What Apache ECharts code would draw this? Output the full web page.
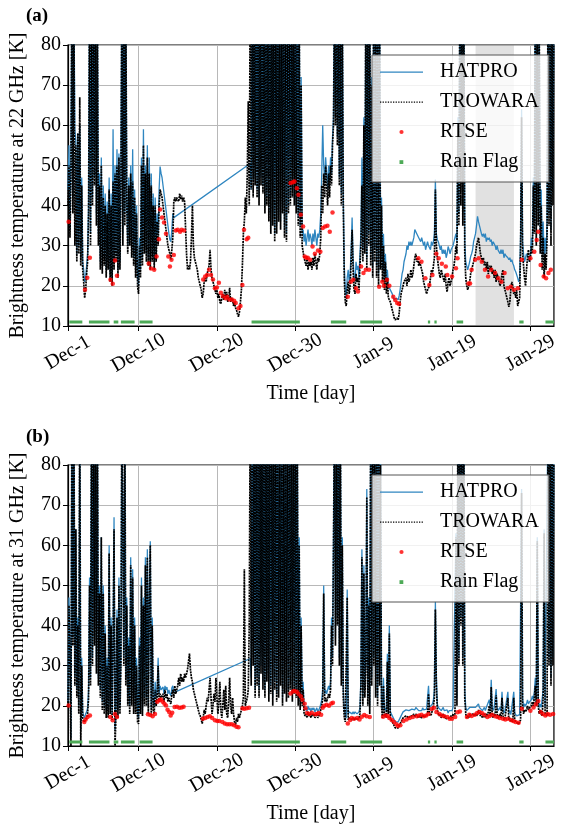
<!DOCTYPE html>
<html><head><meta charset="utf-8">
<script src="https://cdn.jsdelivr.net/npm/echarts@6/dist/echarts.min.js"></script>
<style>html,body{margin:0;padding:0;background:#fff}#c{width:561px;height:830px}</style>
</head><body><div id="c"></div>
<script>
// x values are days counted from Nov-30 (Dec-1 = 1, Jan-29 = 60)
const START_DAY = 1;      // first sample: Dec-1 00:00
const STEP = 0.125;       // 3-hour samples
const X_MIN = 1, X_MAX = 63;
const TICK_DAYS = [1, 10, 20, 30, 40, 50, 60];
const TICK_LABELS = ['Dec-1', 'Dec-10', 'Dec-20', 'Dec-30', 'Jan-9', 'Jan-19', 'Jan-29'];
const Y_MIN = 10, Y_MAX = 80, Y_STEP = 10;
const RAIN_LEVEL = 11;
const SHADE = [53, 57.9];

// TROWARA 22 GHz, one row per day (8 samples)
const T22 = [
40,50,32,48,95,38,92,30,
55,26,58,28,67,25,45,24,
21,17,19,23,26,38,95,30,
95,40,95,45,95,35,90,30,
45,24,50,23,42,25,40,22,
38,24,44,21,40,20,46,24,
48,26,50,22,52,24,45,95,
30,95,35,92,40,28,45,30,
48,27,46,25,42,22,38,20,
18,30,22,50,25,55,28,48,
26,52,25,48,24,45,26,40,
24,40,26,36,30,40,44,43,
42,40,38,36,34,32,30,29,
28,26.5,29,32,41,42,41,42,
42,41,43,41.5,42.5,41,42,41,
41,28,24,25,24,26,32,40,
30,27,26,25,24,22,21,20,
19,17,18,21,22,21,23,24,
25,29,24,22,21,20,19,18,
19,17,18,16,15.5,17,18,16.5,
19,17,18.5,16,17,19.5,16,17,
16.5,15,16,14.5,14,13,12.3,13.5,
16,19,25,33,36,42,38,48,
66,40,95,44,95,42,95,45,
95,42,95,40,95,45,95,43,
95,38,95,40,95,36,95,33,
95,35,95,31,95,33,95,36,
95,34,95,38,95,32,95,31,
95,38,95,40,95,42,95,40,
95,38,95,35,90,32,70,30,
30,27,26,25,27,24,26,25,
26,24,27,25,28,26,24,27,
26,28,32,45,38,48,42,50,
45,40,48,42,50,45,55,60,
95,60,95,55,95,45,95,40,
90,40,22,16,15,19,21,18,
20,26,34,24,19,18,23,21,
22,19,25,30,45,26,60,28,
95,24,95,30,95,25,70,22,
95,26,95,22,90,20,95,24,
40,21,30,19,26,18,22,17,
17,16,15,14,13,12,11.5,11.5,
12,11.5,13,16,18,19,20,21,
21,22,20,23,21,22,24,22,
23,25,27,28,26,27,25,26,
25,24,23,21,20,19,18,19,
19,20,22,24,23,25,27,44,
30,27,25,23,22,24,23,22,
21,23,20,18.5,21,22,20,21,
22,24,25,27,30,28,60,35,
95,40,95,35,95,28,22,20,
19,20,21,23,24,25,26,27,
28,30,31,32,30,28,27,26,
27,25,26,24,26,23,25,24,
25,23,24,22,24,21,23,22,
22,20,21,23,24,20,19,18,
17,16,14.8,16,19,21,20,18,
18.5,17,19,15,14.8,17,30,62,
28,25,22,20,24,27,29,26,
27,30,28,45,33,95,30,95,
35,85,28,40,24,32,22,28,
24,32,95,35,95,30,95,40,
95
];

// HATPRO 22 GHz (null = no data, the line bridges the gap)
const H22 = [
44,55,34,52,95,42,95,59,
56,28,58,30,60,27,47,26,
24,21,22,25,28,40,95,33,
95,42,95,47,95,38,92,33,
48,26,52,25,45,27,43,24,
41,26,47,23,43,22,59,26,
50,28,54,24,53,26,47,95,
33,95,38,95,42,30,47,32,
50,29,54,27,44,24,40,22,
20,32,24,52,27,59,30,50,
28,55,27,52,26,48,28,43,
26,42,28,38,33,44,49.7,48,
47,45,43,41,39,37,35,33,
31.5,31,34,38,37,null,null,null,
null,null,null,null,null,null,null,null,
null,null,null,null,null,null,null,null,
null,null,null,null,null,null,null,null,
null,null,null,null,null,null,null,null,
null,null,null,null,null,null,null,null,
null,null,null,null,null,null,null,null,
null,null,null,null,null,null,null,null,
null,null,null,null,null,null,null,null,
null,null,null,null,null,null,null,null,
null,null,50.5,44,95,46,95,47,
95,44,95,42,95,47,95,45,
95,40,95,42,95,38,95,35,
95,37,95,33,95,35,95,38,
95,36,95,40,95,34,95,33,
95,40,95,42,95,44,95,42,
95,40,95,37,92,35,72,33,
34,31,33,30,32,34,31,33,
32,30,33,31,34,32,30,33,
32,34,38,48,60,50,46,52,
48,44,50,46,52,48,57,62,
95,62,95,57,95,47,95,43,
92,42,25,19,17,22,24,21,
23,29,37,27,22,21,26,24,
25,22,28,33,52,29,62,31,
95,27,95,33,95,28,72,25,
95,29,95,25,92,23,95,27,
42,24,33,22,28,21,24,20,
20,19,18.5,18,17,16.5,16.5,17,
17,16.5,17.5,19,21,23,24,26,
27,28,30,29,31,30,31,30,
30,32,34,34.4,33,33,32,31.5,
31,32,31,30,31,29,30,31,
30,29.8,29,31,30,31,33,46.5,
33,31.5,31,30,29,30,28,29,
28,29,27,28,29.8,29,28,29,
28.9,30,31,32,33,31,62,38,
95,56,95,38,95,31,26,25,
24,25,26,27.3,28,29,31,32,
33,35,37.3,36,35,34,33,32.3,
33,32,33,31,32,31.5,32,31,
31.5,30,31,30.5,30,29,30,28.9,
29,28,29,28,29,27,28,27.5,
27.3,27,26.5,27,26,26.5,25.6,25,
24,23.5,23.1,22,21,22,33,64,
31,28,26,27,28,28,27,26,
28,32,30,47,36,95,34,95,
38,87,32,44,28,36,27,32,
28,36,95,38,95,34,95,44,
95
];

// TROWARA 31 GHz
const T31 = [
20,45,30,10,95,35,95,25,
64,22,40,18,95,10,30,17,
16,15.6,16.5,17,18,22,50,25,
95,30,95,35,95,28,95,25,
48,22,62,19,48,18,38,17,
30,17,58,18,40,16.5,35,64,
10,18,42,17,50,18,30,95,
95,30,95,25,45,20,35,18,
55,20,52,18,40,18,30,16,
15.5,35,18,50,17.5,45,20,55,
20,57,18,45,60,17.5,40,19,
18,24,20,22,30,21,23,22,
22,23,21,24,22,23,21,22,
21,20.5,23,24,22,25,23,24,
25,27,25,28,26,27,26,28,
27,28,29,31,33,29,27,26,
24,23,22,21,20,19,18,17.5,
16.5,15.6,17,19,18,20,22,21,
24,27,22,18,20,23,21,27,
22,18,21,26,19,17,20,24,
19,25,18,17,21,27,20,18,
22,18,16,15.2,17,16,18,17,
17,19,20,22,54,20,21,22,
24,40,95,25,95,30,95,22,
95,25,95,22,95,28,95,24,
95,22,95,26,95,21,95,23,
95,20,95,24,95,21,95,22,
95,25,95,20,95,23,95,21,
95,22,95,24,95,21,95,23,
95,22,95,20,60,19,40,20,
24,18,17.5,18,17,18.5,17.5,18,
17,18,17.5,18,17,17.5,18,17,
17.5,18,19,20,22,48,21,22,
21,22,23,22,24,40,30,60,
95,35,95,40,95,30,95,25,
60,22,17,16,15.6,47,16.5,17,
16.8,17,16.5,17,16.5,17,16.8,16.5,
16.5,17,18,25,57,20,53,22,
30,72,20,45,18,95,25,95,
30,95,22,95,20,95,25,80,
20,17,25,17.5,18,17,31,18,
38,17,16.5,16,15.5,15,14.5,14.3,
14.3,14.5,15,15.5,16,16.5,17,17,
17,17.5,17.2,17.8,17,17.5,17.2,17.5,
17.5,18,17.2,18,17.5,17.8,17,17.5,
17.5,17,17.8,17.2,17.5,17,17.5,18,
23,18,17.5,18,19,20,22,44,
25,19,18,17.5,18,17,17.5,18,
17,17.5,16.8,17.2,16.5,17,16.8,17.5,
17,18,17.5,18,62,20,95,30,
95,40,95,30,95,22,18,17,
17.5,17,18,17.5,17.8,18,17.5,18,
18,17.5,18,19,18,17.5,18,17,
17.5,18,17,18,17.5,18.5,20,17.5,
24.7,18,17,18,17.5,22.6,18,17,
17.5,18,17,22,17.5,16.5,17,16.8,
17,22,16.5,17,16,16.5,16,22,
16.5,16,15.7,16,15.5,16,16.5,73,
20,18,19,18.5,19,20,19,19.5,
19.3,20,21,20,22,25,20,61,
20,18,19,18,17.5,22,63,18,
18,17.5,95,30,95,25,95,30,
95
];

// HATPRO 31 GHz
const H31 = [
21,47,32,12,95,37,95,27,
64,24,42,20,95,14,32,18.5,
17.5,17,18,18.5,19.5,24,52,27,
95,32,95,37,95,30,95,27,
50,24,62,21,50,20,40,19,
32,19,60,20,42,18,37,67,
14,20,44,19,52,20,32,95,
95,32,95,27,47,22,37,20,
57,22,54,20,42,20,32,18,
17,37,20,52,19,47,22,57,
22,59,20,47,61,19.5,42,21,
20,26,22,24,32,23,25,24,
24,24.7,23,25,24,24.7,23,24,
23,22.5,24.5,25,23.3,null,null,null,
null,null,null,null,null,null,null,null,
null,null,null,null,null,null,null,null,
null,null,null,null,null,null,null,null,
null,null,null,null,null,null,null,null,
null,null,null,null,null,null,null,null,
null,null,null,null,null,null,null,null,
null,null,null,null,null,null,null,null,
null,null,null,null,null,null,null,null,
null,null,null,null,null,null,null,null,
null,null,31.8,27,95,32,95,24,
95,27,95,24,95,30,95,26,
95,24,95,28,95,23,95,25,
95,22,95,26,95,23,95,24,
95,27,95,22,95,25,95,23,
95,24,95,26,95,23,95,25,
95,24,95,22,62,21,42,22,
26,19.5,19,19.5,18.5,20,19,19.5,
18.5,19.5,19,19.5,18.5,19,19.5,18.5,
19,19.5,20.5,21.5,24,50,23,24,
23,24,25,24,26,42,32,62,
95,37,95,42,95,32,95,27,
62,24,19,17.5,17,49,18,18.5,
18.5,18.5,18,18.5,18,18.5,18.3,18,
18,18.5,19.5,27,59,22,55,24,
32,74,22,47,20,95,27,95,
32,95,24,95,22,95,27,82,
22,19,27,19,19.5,18.5,33,19.5,
40,18.5,18,17.5,17,16.5,16,15.8,
15.8,16,16.5,17,17.5,18,18.5,18.8,
18.8,19,18.9,19.3,18.8,19.2,18.9,19.2,
19.2,19.5,19,19.6,19.2,19.4,18.8,19.2,
19.2,18.8,19.5,19,19.2,18.8,19.2,19.6,
25,19.6,19.2,19.6,20.5,21.5,24,46,
27,20.5,19.6,19.2,19.6,18.8,19.2,19.6,
18.8,19.2,18.5,19,18.2,18.8,18.5,19.2,
18.8,19.6,19.2,19.6,63,22,95,32,
95,42,95,32,95,24,19.6,18.8,
19.2,18.8,19.6,19.2,19.5,19.6,19.2,19.6,
19.6,19.2,19.6,20.5,19.6,19.2,19.6,18.8,
19.2,19.6,18.8,19.6,19.2,20,21.5,19.2,
26.5,19.6,18.8,19.6,19.2,24.2,19.6,18.8,
19.2,19.6,18.8,23.5,19.2,18.2,18.8,18.5,
18.8,23.5,18.2,18.8,17.8,18.2,17.8,23.5,
18.2,17.8,17.5,17.8,17.2,17.8,18.2,74,
22,19.6,20.5,20,20.5,21.5,20.5,21,
21,21.5,22.5,21.5,23.5,27,22,62,
22,19.6,20.5,19.6,19.2,24,64,19.6,
19.6,19.2,95,32,95,27,95,32,
95
];

// RTSE retrievals [day, K]
const R22 = [
[1.08,36],[3.17,19],[3.46,22],[3.79,27],
[6.42,21.5],[6.71,20.5],[7.0,26.3],[7.25,22.5],
[11.3,25.6],[11.6,24.3],[12.0,24],[12.3,27.3],[12.6,31.6],
[12.75,39],[13.0,37],[13.25,35.8],[13.5,33],[13.8,27.3],[14.0,24.8],[14.2,26.5],[14.5,27.7],
[14.75,33.8],[15.0,34],[15.3,33.5],[15.5,34],[15.8,33.8],
[18.25,21.6],[18.5,22.3],[18.75,22.7],[19.0,24],[19.25,22.7],[19.5,21.6],[19.75,19.4],[20.0,19.6],[20.25,20.8],
[20.5,18.3],[20.75,17.5],[21.1,16.9],[21.3,17.3],[21.6,16.6],[21.9,16.6],[22.2,16.3],[22.4,15.7],[22.75,14.4],[23.0,15],
[23.25,20.2],[23.46,34],[23.8,31.6],[24.0,32],
[29.4,45.6],[29.7,45.8],[29.9,46],[30.2,44.3],[30.4,42.7],[30.7,37.7],[31.0,34.8],[31.2,27.3],
[31.4,27],[31.6,27],[31.9,26.5],[32.2,29.8],[32.5,28],[32.9,28.8],[33.2,28.5],
[33.5,34.4],[33.8,34.8],[34.1,35],[34.4,33.5],[34.75,38.3],
[36.7,17.3],[37.1,21],[37.4,21.5],[37.75,19.4],[38.0,18.6],[38.4,24.8],[38.7,23.2],[39.0,24],
[39.4,24],[40.7,19.8],[41.1,21],[41.3,20],
[41.7,21.5],[42.0,20],[42.5,17.3],[42.75,16.5],[43.0,15.7],[43.25,15.5],
[45.7,26.9],[46.1,26],[46.6,21.9],[47.1,20.2],[47.5,22.7],
[48.0,28],[48.3,26.9],[48.7,25.5],[49.2,24.8],[49.4,22.7],[50.0,22.3],[50.5,24.4],[50.7,26.9],
[52.1,20.6],[52.3,20.6],[52.5,24],[52.95,26.5],
[53.4,26.9],[53.8,26],[54.2,24],[54.6,22.3],[55.0,24],[55.5,23.2],[55.9,21.9],[56.3,21],[56.7,23.2],[57.1,19.4],[57.5,19.8],[57.9,19],[58.4,19.4],
[58.9,26.5],
[60.0,26.9],[60.5,28.5],[60.8,31.4],[61.0,33.5],[61.3,25.2],[61.7,22.3],[62.0,21.9],[62.3,23.2],[62.6,24]
];
const R31 = [
[1.08,20.1],[3.08,16],[3.25,16.6],[3.5,17.2],[3.8,17.6],
[6.4,17.2],[6.7,16.4],[7.0,18],[7.25,17.2],
[11.2,17.9],[11.5,17.7],[11.8,17.4],[12.1,18],
[12.4,21],[12.67,21.4],[12.875,21.6],[13.08,21],[13.3,20.5],[13.5,20.1],[13.7,19],[13.9,18.5],[14.1,17.6],[14.3,18.3],[14.6,19.7],[14.9,19.8],[15.2,19.5],[15.5,19.6],[15.75,19.8],
[18.2,16.8],[18.5,17],[18.8,17.2],[19.1,17.4],[19.4,17],[19.75,16.4],[20.05,16.2],[20.3,16.2],[20.7,16],[21.0,15.6],[21.3,15.4],[21.6,15.4],[21.9,15.4],[22.2,15.2],[22.5,14.8],[22.75,14.7],
[23.25,19.4],[23.5,19.3],[23.8,19.4],[24.1,19.5],
[29.4,23.1],[29.7,23.6],[29.9,23.7],[30.2,23.5],[30.4,23],[30.7,22.4],[30.9,21.5],[31.2,20.5],[31.3,19.4],
[31.5,18.2],[31.8,18],[32.1,18.3],[32.5,17.9],[32.75,18],[33.0,18.2],[33.3,17.8],
[33.5,19.5],[33.7,20],[34.0,20.3],[34.3,20],[34.6,20.6],[34.8,20.8],
[36.7,15.6],[37.0,16.5],[37.2,17],[37.5,16.8],[37.9,17],[38.2,16.6],[38.5,17.3],[38.8,17.7],[39.1,17.4],[39.5,17.2],
[41.2,17.3],[41.5,17.6],[41.8,17.5],[42.0,17],[42.3,16.5],[42.6,16],[42.9,15.4],[43.1,15],[43.4,15.2],
[43.8,16.2],[44.2,16.6],[44.6,17],[45.0,17.2],[45.5,17.4],[45.8,17.6],[46.1,17.8],[46.4,17.4],[46.7,17.6],[47.0,18],[47.4,19.2],[47.7,19.5],[48.0,18.5],[48.4,18],[48.7,17.6],[49.0,17.4],[49.4,17.2],[49.7,16.8],[50.0,16.8],[50.4,17.2],[50.7,18.4],[51.0,18.6],
[51.9,17.2],[52.2,17.8],[52.5,17.5],[52.9,17.8],[53.2,18.2],[53.5,18.5],[53.8,18.2],[54.1,17.8],[54.5,17.2],[54.8,17.5],[55.1,17.8],[55.5,17.4],[55.8,17.2],[56.1,17],[56.5,16.8],[56.8,16.6],[57.1,16.8],[57.5,16.5],[57.8,16.2],[58.1,16],[58.5,15.8],
[58.9,19.3],[60.0,18.8],[60.4,19.6],[60.7,20.4],[61.0,21.2],[61.3,18.5],[61.6,18],[61.9,17.6],[62.2,18],[62.5,17.8],[62.9,18]
];

// Rain flag periods [start day, end day]
const RAIN = [
[1.17,2.83],[3.67,6.29],[6.83,7.42],[7.75,9.5],[10.13,11.79],
[24.42,30.58],[34.54,36.5],[38.29,41.08],[46.92,47.21],[47.75,48.04],
[50.58,51.42],[58.58,59.13],[61.92,63]
];

const FONT = "'Liberation Serif','DejaVu Serif','Times New Roman',serif";
const BLUE = '#2f86c0';
const GREEN = '#4daa57';
const RED = '#ff0000';

function toXY(arr) { return arr.map((v, i) => [START_DAY + i * STEP, v]); }
function rainXY() {
  const out = [];
  RAIN.forEach(([a, b]) => { out.push([a, RAIN_LEVEL], [b, RAIN_LEVEL], [b, null]); });
  return out;
}
function tickFmt(v) { const i = TICK_DAYS.indexOf(v); return i >= 0 ? TICK_LABELS[i] : ''; }

// legend icons: a 43x6 box with the glyph drawn inside
const BOX = 'M0,0M43,6';
const ICON_LINE = 'path://' + BOX + 'M0,2.4h43v1.3h-43Z';
let dots = '';
for (let x = 0; x < 42; x += 2.6) dots += 'M' + x.toFixed(1) + ',2.4h1.3v1.3h-1.3Z';
const ICON_DOTTED = 'path://' + BOX + dots;
const ICON_DOT = 'path://' + BOX + 'M19.4,3a2.1,2.1 0 1,0 4.2,0a2.1,2.1 0 1,0 -4.2,0Z';
const ICON_SQUARE = 'path://' + BOX + 'M19.5,1.2h3.8v3.8h-3.8Z';

const grids = [
  { left: 66, width: 496, top: 45, height: 281, show: true, borderColor: '#000', borderWidth: 1.2 },
  { left: 66, width: 496, top: 465, height: 281, show: true, borderColor: '#000', borderWidth: 1.2 }
];
function xAxis(gi) {
  return {
    type: 'value', gridIndex: gi, min: X_MIN, max: X_MAX,
    axisLine: { show: true, onZero: false, lineStyle: { color: '#000', width: 1.2 } },
    axisTick: { show: true, customValues: TICK_DAYS, length: 5, lineStyle: { color: '#000', width: 1 } },
    axisLabel: { customValues: TICK_DAYS, formatter: tickFmt, rotate: 30, align: 'center', verticalAlign: 'middle',
      margin: 27, fontFamily: FONT, fontSize: 20, color: '#000' },
    splitLine: { show: true, lineStyle: { color: '#b8b8b8', width: 1 } },
    name: 'Time [day]', nameLocation: 'middle', nameGap: 58,
    nameTextStyle: { fontFamily: FONT, fontSize: 20, color: '#000' }
  };
}
function yAxis(gi, name) {
  return {
    type: 'value', gridIndex: gi, min: Y_MIN, max: Y_MAX, interval: Y_STEP,
    axisLine: { show: true, lineStyle: { color: '#000', width: 1.2 } },
    axisTick: { show: true, length: 5, lineStyle: { color: '#000', width: 1 } },
    axisLabel: { margin: 7, fontFamily: FONT, fontSize: 20, color: '#000' },
    splitLine: { show: true, lineStyle: { color: '#b8b8b8', width: 1 } },
    name: name, nameLocation: 'middle', nameGap: 40,
    nameTextStyle: { fontFamily: FONT, fontSize: 20, color: '#000' }
  };
}
function legend(top) {
  return {
    left: 372, top: top, orient: 'vertical', padding: [7, 10, 10, 8], itemGap: 10,
    itemWidth: 43, itemHeight: 6, selectedMode: false,
    backgroundColor: 'rgba(255,255,255,0.8)', borderColor: '#555', borderWidth: 1,
    itemStyle: { borderWidth: 0 },
    textStyle: { fontFamily: FONT, fontSize: 20, color: '#000', lineHeight: 20, padding: [0, 0, 0, 12] },
    data: [
      { name: 'HATPRO', icon: ICON_LINE },
      { name: 'TROWARA', icon: ICON_DOTTED },
      { name: 'RTSE', icon: ICON_DOT },
      { name: 'Rain Flag', icon: ICON_SQUARE }
    ]
  };
}
function panelSeries(gi, H, T, R, withShade) {
  const s = [];
  if (withShade) {
    s.push({ type: 'line', name: 'shade', xAxisIndex: gi, yAxisIndex: gi, data: [], z: 1, silent: true,
      markArea: { silent: true, itemStyle: { color: 'rgba(128,128,128,0.24)' },
        data: [[{ xAxis: SHADE[0] }, { xAxis: SHADE[1] }]] } });
  }
  s.push({ type: 'line', name: 'HATPRO', xAxisIndex: gi, yAxisIndex: gi, data: toXY(H), symbol: 'none',
    connectNulls: true, z: 2, itemStyle: { color: BLUE }, lineStyle: { color: BLUE, width: 1.3 } });
  s.push({ type: 'line', name: 'TROWARA', xAxisIndex: gi, yAxisIndex: gi, data: toXY(T), symbol: 'none',
    z: 3, itemStyle: { color: '#000' }, lineStyle: { color: '#000', width: 1.7, type: [2, 0.8] } });
  s.push({ type: 'scatter', name: 'RTSE', xAxisIndex: gi, yAxisIndex: gi, data: R, symbolSize: 4.5,
    z: 4, itemStyle: { color: RED } });
  s.push({ type: 'line', name: 'Rain Flag', xAxisIndex: gi, yAxisIndex: gi, data: rainXY(), symbol: 'none',
    z: 5, itemStyle: { color: GREEN }, lineStyle: { color: GREEN, width: 3.2 } });
  return s;
}

const chart = echarts.init(document.getElementById('c'), null, { renderer: 'canvas' });
chart.setOption({
  animation: false,
  backgroundColor: '#fff',
  title: [
    { text: '(a)', left: 26, top: 7, padding: 0, textStyle: { fontFamily: FONT, fontSize: 19, fontWeight: 'bold', color: '#000' } },
    { text: '(b)', left: 26, top: 428, padding: 0, textStyle: { fontFamily: FONT, fontSize: 19, fontWeight: 'bold', color: '#000' } }
  ],
  grid: grids,
  xAxis: [xAxis(0), xAxis(1)],
  yAxis: [yAxis(0, 'Brightness temperature at 22 GHz [K]'), yAxis(1, 'Brightness temperature at 31 GHz [K]')],
  legend: [legend(55), legend(475)],
  series: [].concat(panelSeries(0, H22, T22, R22, true), panelSeries(1, H31, T31, R31, false))
});
</script>
</body></html>
